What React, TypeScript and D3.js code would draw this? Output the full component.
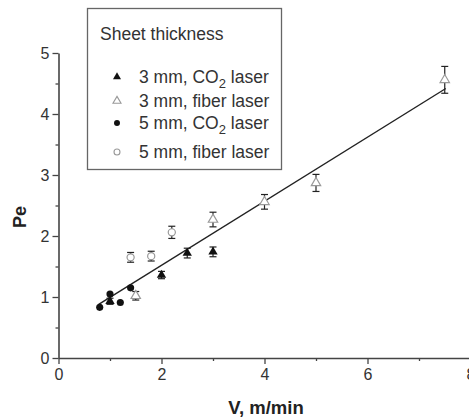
import React, { useRef, useEffect } from 'react';
import * as d3 from 'd3';

// 3 mm, CO2 laser
const co2ThreeV = [1.0, 2.0, 2.5, 3.0];
const co2ThreePe = [0.93, 1.36, 1.72, 1.74];
const co2ThreeErr = [0.05, 0.06, 0.08, 0.08];

// 3 mm, fiber laser
const fiberThreeV = [1.5, 3.0, 4.0, 5.0, 7.5];
const fiberThreePe = [1.02, 2.27, 2.56, 2.87, 4.56];
const fiberThreeErr = [0.07, 0.12, 0.12, 0.14, 0.22];

// 5 mm, CO2 laser
const co2FiveV = [0.8, 1.0, 1.2, 1.4];
const co2FivePe = [0.83, 1.05, 0.91, 1.15];

// 5 mm, fiber laser
const fiberFiveV = [1.4, 1.8, 2.2];
const fiberFivePe = [1.65, 1.67, 2.06];
const fiberFiveErr = [0.08, 0.08, 0.1];

// linear fit
const fitV = [0.78, 7.52];
const fitIntercept = 0.47;
const fitSlope = 0.525;

const xTicks = [0, 2, 4, 6, 8];
const xMinor = [1, 3, 5, 7];
const yTicks = [0, 1, 2, 3, 4, 5];
const yMinor = [0.5, 1.5, 2.5, 3.5, 4.5];

const W = 469;
const H = 417;
const font = 'Arial, "Liberation Sans", Helvetica, sans-serif';

export default function App() {
  const xAxisRef = useRef<SVGGElement>(null);
  const yAxisRef = useRef<SVGGElement>(null);

  const x = d3.scaleLinear().domain([0, 8]).range([58.5, 470.5]);
  const y = d3.scaleLinear().domain([0, 5]).range([358, 53]);

  useEffect(() => {
    const gx = d3.select(xAxisRef.current);
    gx.selectAll('*').remove();
    gx.call(d3.axisBottom(x).tickValues(xTicks).tickSize(6).tickSizeOuter(0).tickFormat(d3.format('d')));
    gx.append('g').call(
      d3.axisBottom(x).tickValues(xMinor).tickSize(3).tickFormat(() => '')
    ).select('.domain').remove();
    gx.selectAll('.domain').attr('stroke', '#444').attr('stroke-width', 1.6);
    gx.selectAll('line').attr('stroke', '#444').attr('stroke-width', 1.3);
    gx.selectAll('text').attr('font-size', 16).attr('fill', '#333').attr('font-family', font).attr('y', 9).attr('dy', '0.8em');

    const gy = d3.select(yAxisRef.current);
    gy.selectAll('*').remove();
    gy.call(d3.axisLeft(y).tickValues(yTicks).tickSize(6).tickSizeOuter(0).tickFormat(d3.format('d')));
    gy.append('g').call(
      d3.axisLeft(y).tickValues(yMinor).tickSize(3).tickFormat(() => '')
    ).select('.domain').remove();
    gy.selectAll('.domain').attr('stroke', '#444').attr('stroke-width', 1.6);
    gy.selectAll('line').attr('stroke', '#444').attr('stroke-width', 1.3);
    gy.selectAll('text').attr('font-size', 16).attr('fill', '#333').attr('font-family', font).attr('x', -9);
  }, []);

  const tri = d3.symbol().type(d3.symbolTriangle).size(38);
  const circ = d3.symbol().type(d3.symbolCircle).size(40);
  const triSmall = d3.symbol().type(d3.symbolTriangle).size(28);
  const circSmall = d3.symbol().type(d3.symbolCircle).size(28);

  const errBar = (v: number, pe: number, e: number, k: string) => {
    const cx = x(v);
    return (
      <g key={k} stroke="#222" strokeWidth={1.2}>
        <line x1={cx} x2={cx} y1={y(pe + e)} y2={y(pe - e)} />
        <line x1={cx - 3.5} x2={cx + 3.5} y1={y(pe + e)} y2={y(pe + e)} />
        <line x1={cx - 3.5} x2={cx + 3.5} y1={y(pe - e)} y2={y(pe - e)} />
      </g>
    );
  };

  const co2Label = (mm: string) => (
    <>
      {mm} mm, CO<tspan dy={5} fontSize={13}>2</tspan>
      <tspan dy={-5}> laser</tspan>
    </>
  );

  const legendRows = [
    { y: 77, sym: triSmall, fill: '#111', stroke: 'none', label: co2Label('3') },
    { y: 101, sym: triSmall, fill: '#fff', stroke: '#999', label: <>3 mm, fiber laser</> },
    { y: 123, sym: circSmall, fill: '#111', stroke: 'none', label: co2Label('5') },
    { y: 152, sym: circSmall, fill: '#fff', stroke: '#999', label: <>5 mm, fiber laser</> },
  ];

  return (
    <svg width={W} height={H} style={{ position: 'absolute', left: 0, top: 0, background: '#fff' }}>
      <rect width={W} height={H} fill="#fff" />
      <g ref={xAxisRef} transform={`translate(0,${y(0)})`} />
      <g ref={yAxisRef} transform={`translate(${x(0)},0)`} />

      <text x={-217} y={26} transform="rotate(-90)" textAnchor="middle" fontFamily={font} fontWeight="bold" fontSize={18} fill="#222">Pe</text>
      <text x={266} y={414} textAnchor="middle" fontFamily={font} fontWeight="bold" fontSize={18.5} fill="#222">V, m/min</text>

      {/* fit line */}
      <line x1={x(fitV[0])} y1={y(fitIntercept + fitSlope * fitV[0])} x2={x(fitV[1])} y2={y(fitIntercept + fitSlope * fitV[1])} stroke="#222" strokeWidth={1.4} />

      {/* error bars */}
      {co2ThreeV.map((v, i) => errBar(v, co2ThreePe[i], co2ThreeErr[i], 'a' + i))}
      {fiberThreeV.map((v, i) => errBar(v, fiberThreePe[i], fiberThreeErr[i], 'b' + i))}
      {fiberFiveV.map((v, i) => errBar(v, fiberFivePe[i], fiberFiveErr[i], 'c' + i))}

      {/* markers */}
      {co2FiveV.map((v, i) => (
        <path key={'d' + i} d={circ() as string} transform={`translate(${x(v)},${y(co2FivePe[i])})`} fill="#111" />
      ))}
      {co2ThreeV.map((v, i) => (
        <path key={'e' + i} d={tri() as string} transform={`translate(${x(v)},${y(co2ThreePe[i])})`} fill="#111" />
      ))}
      {fiberThreeV.map((v, i) => (
        <path key={'f' + i} d={tri() as string} transform={`translate(${x(v)},${y(fiberThreePe[i])})`} fill="#fff" stroke="#999" strokeWidth={1.2} />
      ))}
      {fiberFiveV.map((v, i) => (
        <path key={'g' + i} d={circ() as string} transform={`translate(${x(v)},${y(fiberFivePe[i])})`} fill="#fff" stroke="#999" strokeWidth={1.2} />
      ))}

      {/* legend */}
      <rect x={87.5} y={8.5} width={194} height={161} fill="#fff" stroke="#666" strokeWidth={1.3} />
      <text x={100} y={40} fontFamily={font} fontSize={17.5} fill="#333">Sheet thickness</text>
      {legendRows.map((r, i) => (
        <g key={'l' + i}>
          <path d={r.sym() as string} transform={`translate(117,${r.y})`} fill={r.fill} stroke={r.stroke} strokeWidth={1.1} />
          <text x={139} y={r.y + 6} fontFamily={font} fontSize={17.5} fill="#333">{r.label}</text>
        </g>
      ))}
    </svg>
  );
}
